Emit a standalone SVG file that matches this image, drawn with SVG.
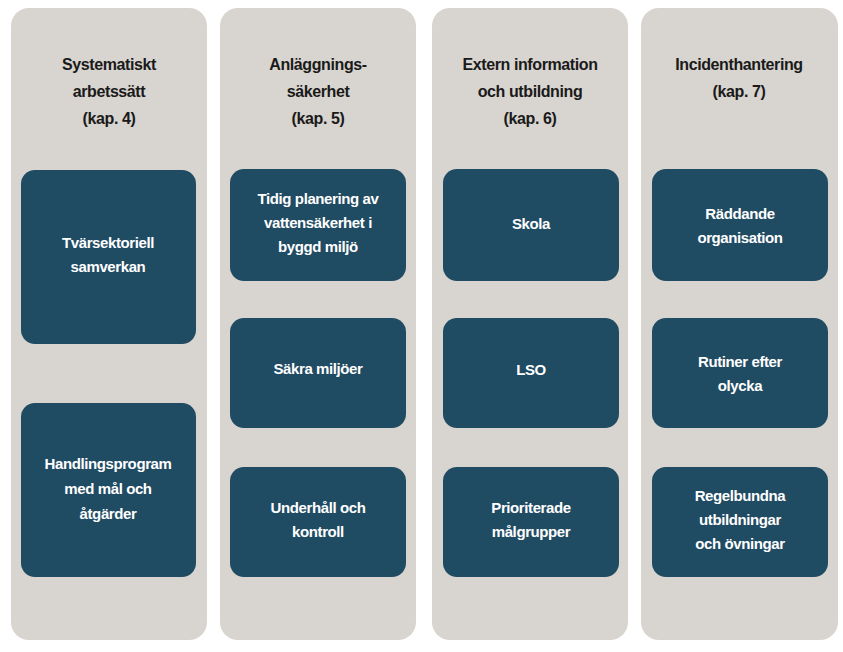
<svg xmlns="http://www.w3.org/2000/svg" width="843" height="652" viewBox="0 0 843 652">
<style>
.col{fill:#d8d4cf}
.box{fill:#1f4b63}
.h{font-family:"Liberation Sans",Arial,sans-serif;font-weight:bold;font-size:16px;fill:#1a1a1a;text-anchor:middle;letter-spacing:-0.4px}
.t{font-family:"Liberation Sans",Arial,sans-serif;font-weight:bold;font-size:15px;fill:#ffffff;text-anchor:middle;letter-spacing:-0.4px}
</style>
<rect width="843" height="652" fill="#ffffff"/>
<g id="col1">
<rect class="col" x="11" y="8" width="196" height="632" rx="18"/>
<text class="h" x="109" y="70">Systematiskt</text><text class="h" x="109" y="97">arbetssätt</text><text class="h" x="109" y="124">(kap. 4)</text>
</g>
<g id="col2">
<rect class="col" x="220" y="8" width="196" height="632" rx="18"/>
<text class="h" x="318" y="70">Anläggnings-</text><text class="h" x="318" y="97">säkerhet</text><text class="h" x="318" y="124">(kap. 5)</text>
</g>
<g id="col3">
<rect class="col" x="432" y="8" width="196" height="632" rx="18"/>
<text class="h" x="530" y="70">Extern information</text><text class="h" x="530" y="97">och utbildning</text><text class="h" x="530" y="124">(kap. 6)</text>
</g>
<g id="col4">
<rect class="col" x="641" y="8" width="197" height="632" rx="18"/>
<text class="h" x="739" y="70">Incidenthantering</text><text class="h" x="739" y="97">(kap. 7)</text>
</g>
<g id="n1"><rect class="box" x="21" y="170" width="175" height="174" rx="14"/><text class="t" x="108" y="248">Tvärsektoriell</text><text class="t" x="108" y="272">samverkan</text></g>
<g id="n2"><rect class="box" x="21" y="403" width="175" height="174" rx="14"/><text class="t" x="108" y="469">Handlingsprogram</text><text class="t" x="108" y="494">med mål och</text><text class="t" x="108" y="519">åtgärder</text></g>
<g id="n3"><rect class="box" x="230" y="169" width="176" height="112" rx="14"/><text class="t" x="318" y="204">Tidig planering av</text><text class="t" x="318" y="228">vattensäkerhet i</text><text class="t" x="318" y="252">byggd miljö</text></g>
<g id="n4"><rect class="box" x="230" y="318" width="176" height="110" rx="14"/><text class="t" x="318" y="374">Säkra miljöer</text></g>
<g id="n5"><rect class="box" x="230" y="467" width="176" height="110" rx="14"/><text class="t" x="318" y="513">Underhåll och</text><text class="t" x="318" y="537">kontroll</text></g>
<g id="n6"><rect class="box" x="443" y="169" width="176" height="112" rx="14"/><text class="t" x="531" y="229">Skola</text></g>
<g id="n7"><rect class="box" x="443" y="318" width="176" height="110" rx="14"/><text class="t" x="531" y="375">LSO</text></g>
<g id="n8"><rect class="box" x="443" y="467" width="176" height="110" rx="14"/><text class="t" x="531" y="513">Prioriterade</text><text class="t" x="531" y="537">målgrupper</text></g>
<g id="n9"><rect class="box" x="652" y="169" width="176" height="112" rx="14"/><text class="t" x="740" y="219">Räddande</text><text class="t" x="740" y="243">organisation</text></g>
<g id="n10"><rect class="box" x="652" y="318" width="176" height="110" rx="14"/><text class="t" x="740" y="367">Rutiner efter</text><text class="t" x="740" y="391">olycka</text></g>
<g id="n11"><rect class="box" x="652" y="467" width="176" height="110" rx="14"/><text class="t" x="740" y="501">Regelbundna</text><text class="t" x="740" y="525">utbildningar</text><text class="t" x="740" y="549">och övningar</text></g>
<g id="connectors"/>
</svg>
